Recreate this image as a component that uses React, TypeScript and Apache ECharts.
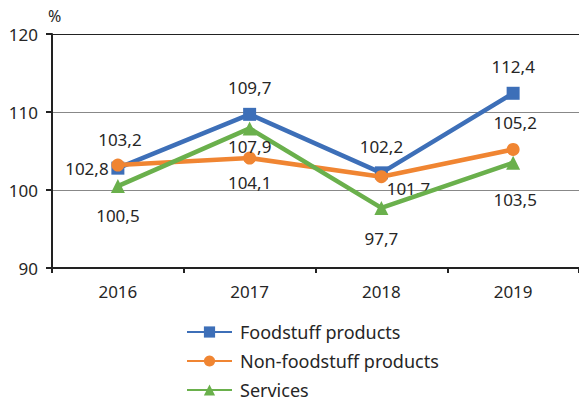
import React, { useEffect, useRef } from "react";
import * as echarts from "echarts";

const categories = ["2016", "2017", "2018", "2019"];
const foodstuff = [102.8, 109.7, 102.2, 112.4];
const nonFoodstuff = [103.2, 104.1, 101.7, 105.2];
const services = [100.5, 107.9, 97.7, 103.5];
const seriesNames = ["Foodstuff products", "Non-foodstuff products", "Services"];

// label offsets (style only)
const foodOffsets = [[-31, 0], [0, -27], [0, -26], [0, -27]];
const nonFoodOffsets = [[2, -26], [0, 24], [27, 12], [2, -27]];
const servicesOffsets = [[0, 29], [0, 18], [0, 31], [2, 37]];

const FONT = "Noto Sans";
const TEXT = "#262626";
const FS = 17;

function withLabels(values: number[], offsets: number[][]) {
  return values.map((v, i) => ({
    value: v,
    label: {
      show: true,
      position: "inside",
      offset: offsets[i],
      formatter: () => v.toFixed(1).replace(".", ","),
      color: TEXT,
      fontSize: FS,
      fontFamily: FONT,
    },
  }));
}

export default function App() {
  const ref = useRef<HTMLDivElement>(null);
  useEffect(() => {
    if (!ref.current) return;
    const chart = echarts.init(ref.current, undefined, { renderer: "svg" });
    chart.setOption({
      animation: false,
      textStyle: { fontFamily: FONT, color: TEXT },
      grid: { left: 52, top: 34, width: 530, bottom: 131, containLabel: false },
      legend: {
        orient: "vertical",
        left: 181,
        top: 318,
        height: 80,
        itemWidth: 45,
        itemHeight: 14,
        itemGap: 11,
        textStyle: { fontSize: 18, lineHeight: 18, color: TEXT, fontFamily: FONT, padding: [0, 0, 0, 3] },
        data: seriesNames,
      },
      xAxis: {
        type: "category",
        data: categories,
        boundaryGap: true,
        axisLine: { lineStyle: { color: "#222", width: 2 } },
        axisTick: { show: true, length: 5, lineStyle: { color: "#222", width: 2 } },
        axisLabel: { fontSize: FS, color: TEXT, fontFamily: FONT, margin: 15 },
      },
      yAxis: {
        type: "value",
        min: 90,
        max: 120,
        interval: 10,
        name: "%",
        nameLocation: "end",
        nameGap: 10,
        nameTextStyle: { fontSize: 16, color: TEXT, fontFamily: FONT, align: "left", padding: [0, 0, 0, -4] },
        axisLine: { show: true, lineStyle: { color: "#222", width: 2 } },
        axisTick: { show: true, length: 6, lineStyle: { color: "#222", width: 2 } },
        axisLabel: { fontSize: FS, color: TEXT, fontFamily: FONT, margin: 14 },
        splitLine: { show: true, lineStyle: { color: ["#888", "#888", "#888", "#222"], width: 1 } },
      },
      series: [
        {
          name: seriesNames[0],
          type: "line",
          data: withLabels(foodstuff, foodOffsets),
          symbol: "rect",
          symbolSize: 13,
          lineStyle: { color: "#3D6FB8", width: 4.5 },
          itemStyle: { color: "#3D6FB8" },
          z: 3,
        },
        {
          name: seriesNames[1],
          type: "line",
          data: withLabels(nonFoodstuff, nonFoodOffsets),
          symbol: "circle",
          symbolSize: 13,
          lineStyle: { color: "#F08532", width: 4.5 },
          itemStyle: { color: "#F08532" },
          z: 4,
        },
        {
          name: seriesNames[2],
          type: "line",
          data: withLabels(services, servicesOffsets),
          symbol: "triangle",
          symbolSize: 14,
          lineStyle: { color: "#6AB04C", width: 4.5 },
          itemStyle: { color: "#6AB04C" },
          z: 5,
        },
      ],
    });
    return () => chart.dispose();
  }, []);
  return <div ref={ref} style={{ width: 579, height: 399, position: "absolute", left: 0, top: 0 }} />;
}
